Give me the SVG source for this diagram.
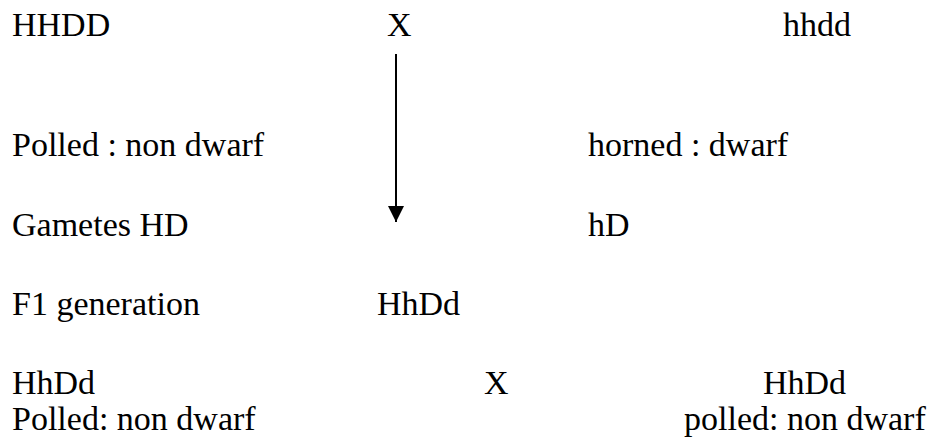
<svg xmlns="http://www.w3.org/2000/svg" width="936" height="442" viewBox="0 0 936 442">
<style>
text{font-family:"Liberation Serif","Times New Roman",serif;font-size:34px;fill:#000}
</style>
<defs>
<marker id="ah" markerWidth="16" markerHeight="16" refX="16" refY="8" orient="auto" markerUnits="userSpaceOnUse">
<path d="M0,0 L16,8 L0,16 Z" fill="#000"/>
</marker>
</defs>
<rect width="936" height="442" fill="#fff"/>
<g id="connectors">
<line x1="396" y1="54" x2="396" y2="222" stroke="#000" stroke-width="2" marker-end="url(#ah)"/>
</g>
<g id="parent1"><text x="12" y="36">HHDD</text></g>
<g id="cross1"><text x="387" y="36">X</text></g>
<g id="parent2"><text x="783" y="36">hhdd</text></g>
<g id="pheno1"><text x="12" y="156">Polled : non dwarf</text></g>
<g id="pheno2"><text x="588" y="156">horned : dwarf</text></g>
<g id="gametes1"><text x="12" y="236">Gametes HD</text></g>
<g id="gametes2"><text x="588" y="236">hD</text></g>
<g id="f1label"><text x="12" y="315">F1 generation</text></g>
<g id="f1"><text x="377" y="315">HhDd</text></g>
<g id="f1a"><text x="12" y="394">HhDd</text><text x="12" y="430">Polled: non dwarf</text></g>
<g id="cross2"><text x="484" y="394">X</text></g>
<g id="f1b"><text x="763" y="394">HhDd</text><text x="684" y="430">polled: non dwarf</text></g>
</svg>
